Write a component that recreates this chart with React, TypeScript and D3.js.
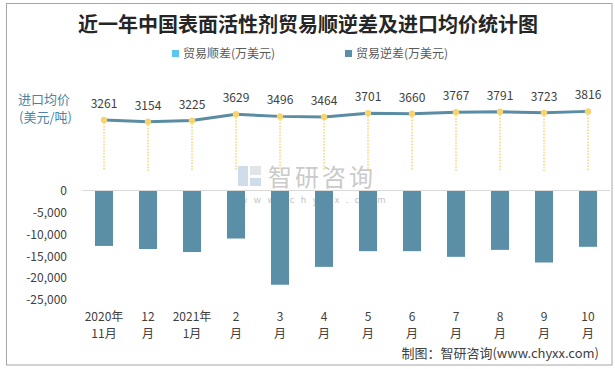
import React, { useEffect, useRef } from 'react'
import * as d3 from 'd3'

const months = ['2020-11', '2020-12', '2021-01', '2021-02', '2021-03', '2021-04', '2021-05', '2021-06', '2021-07', '2021-08', '2021-09', '2021-10']
const labelTop = ['2020年', '12', '2021年', '2', '3', '4', '5', '6', '7', '8', '9', '10']
const labelBottom = ['11月', '月', '1月', '月', '月', '月', '月', '月', '月', '月', '月', '月']
const deficit = [-12600, -13300, -14000, -10900, -21500, -17400, -13800, -13800, -15100, -13500, -16400, -12800]
const avgPrice = [3261, 3154, 3225, 3629, 3496, 3464, 3701, 3660, 3767, 3791, 3723, 3816]
const yTicks = [0, -5000, -10000, -15000, -20000, -25000]

const FONT = '"Noto Sans CJK SC", "Microsoft YaHei", sans-serif'
const BAR = '#5b8fa7'
const DOT = '#f8d470'

export default function App() {
  const ref = useRef<SVGSVGElement>(null)

  useEffect(() => {
    const svg = d3.select(ref.current)
    svg.selectAll('*').remove()

    const x = d3.scaleBand()
      .domain(months)
      .range([82, 610])
      .paddingInner(0.59)
      .paddingOuter(0.295)
    const y = d3.scaleLinear().domain([-25000, 0]).range([300, 191])
    const yLine = d3.scaleLinear().domain([0, 4000]).range([171, 108.5])
    const cx = (m: string) => (x(m) as number) + x.bandwidth() / 2

    // frame
    svg.append('rect')
      .attr('x', 6.5).attr('y', 3.5).attr('width', 605.5).attr('height', 361.5)
      .attr('fill', '#fff').attr('stroke', '#a6a6a6')

    // title
    svg.append('text')
      .attr('x', 308).attr('y', 32)
      .attr('text-anchor', 'middle')
      .style('font', `bold 20px ${FONT}`)
      .attr('fill', '#262626')
      .text('近一年中国表面活性剂贸易顺逆差及进口均价统计图')

    // legend
    const legend = [
      { name: '贸易顺差(万美元)', color: '#5bc6f0', x: 172 },
      { name: '贸易逆差(万美元)', color: BAR, x: 345 },
    ]
    const lg = svg.append('g')
    lg.selectAll('rect').data(legend).enter().append('rect')
      .attr('x', d => d.x).attr('y', 50).attr('width', 7).attr('height', 7)
      .attr('fill', d => d.color)
    lg.selectAll('text').data(legend).enter().append('text')
      .attr('x', d => d.x + 11).attr('y', 58)
      .style('font', `12px ${FONT}`)
      .attr('fill', '#595959')
      .text(d => d.name)

    // left label for the line
    svg.append('text').attr('x', 18).attr('y', 104)
      .style('font', `13px ${FONT}`).attr('fill', '#4f84a0').text('进口均价')
    svg.append('text').attr('x', 19).attr('y', 122)
      .style('font', `13px ${FONT}`).attr('fill', '#4f84a0').text('(美元/吨)')

    // watermark
    const wm = svg.append('g').attr('opacity', 0.55)
    wm.append('rect').attr('x', 238).attr('y', 166).attr('width', 10).attr('height', 20).attr('fill', '#a9c3da')
    wm.append('rect').attr('x', 250).attr('y', 166).attr('width', 11).attr('height', 9).attr('fill', '#c9cfd6')
    wm.append('rect').attr('x', 250).attr('y', 178).attr('width', 11).attr('height', 8).attr('fill', '#a9c3da')
    wm.append('text').attr('x', 268).attr('y', 186)
      .style('font', `24px ${FONT}`).attr('fill', '#a0a0a0').attr('letter-spacing', 3).text('智研咨询')
    wm.append('text').attr('x', 240).attr('y', 203)
      .style('font', `9px ${FONT}`).attr('fill', '#909090').attr('letter-spacing', 6.5).text('www.chyxx.com')

    // zero line
    svg.append('line')
      .attr('x1', 82).attr('x2', 610)
      .attr('y1', y(0) - 0.5).attr('y2', y(0) - 0.5)
      .attr('stroke', '#d9d9d9').attr('stroke-width', 1)

    // y ticks
    svg.append('g').selectAll('text').data(yTicks).enter().append('text')
      .attr('x', 67).attr('y', d => y(d)).attr('dy', '0.35em')
      .attr('text-anchor', 'end')
      .style('font', `12px ${FONT}`).attr('fill', '#404040')
      .text(d => d3.format(',')(d).replace('−', '-'))

    // bars
    svg.append('g').selectAll('rect').data(months).enter().append('rect')
      .attr('x', d => x(d) as number)
      .attr('y', y(0))
      .attr('width', x.bandwidth())
      .attr('height', (d, i) => y(deficit[i]) - y(0))
      .attr('fill', BAR)

    // drop lines
    svg.append('g').selectAll('line').data(months).enter().append('line')
      .attr('x1', d => cx(d)).attr('x2', d => cx(d))
      .attr('y1', (d, i) => yLine(avgPrice[i])).attr('y2', yLine(0))
      .attr('stroke', DOT).attr('stroke-width', 1.5).attr('stroke-dasharray', '1.5,1.5')

    // price line
    const line = d3.line<string>()
      .x(d => cx(d))
      .y((d, i) => yLine(avgPrice[i]))
    svg.append('path').datum(months)
      .attr('d', line)
      .attr('fill', 'none').attr('stroke', '#fff').attr('stroke-width', 4.5)
    svg.append('path').datum(months)
      .attr('d', line)
      .attr('fill', 'none').attr('stroke', '#5a8ca4').attr('stroke-width', 3)

    svg.append('g').selectAll('circle').data(months).enter().append('circle')
      .attr('cx', d => cx(d)).attr('cy', (d, i) => yLine(avgPrice[i]))
      .attr('r', 3.2).attr('fill', DOT)

    svg.append('g').selectAll('text').data(months).enter().append('text')
      .attr('x', d => cx(d)).attr('y', (d, i) => yLine(avgPrice[i]) - 12)
      .attr('text-anchor', 'middle')
      .style('font', `12px ${FONT}`).attr('fill', '#404040')
      .text((d, i) => avgPrice[i])

    // x labels
    const xl = svg.append('g').selectAll('g').data(months).enter().append('g')
    xl.append('text')
      .attr('x', d => cx(d)).attr('y', 321)
      .attr('text-anchor', 'middle')
      .style('font', `12px ${FONT}`).attr('fill', '#404040')
      .text((d, i) => labelTop[i])
    xl.append('text')
      .attr('x', d => cx(d)).attr('y', 338)
      .attr('text-anchor', 'middle')
      .style('font', `12px ${FONT}`).attr('fill', '#404040')
      .text((d, i) => labelBottom[i])

    // source
    svg.append('text')
      .attr('x', 599).attr('y', 358)
      .attr('text-anchor', 'end')
      .style('font', `13px ${FONT}`).attr('fill', '#404040')
      .text('制图：智研咨询(www.chyxx.com)')
  }, [])

  return (
    <div style={{ position: 'absolute', left: 0, top: 0 }}>
      <svg ref={ref} width={615} height={369} style={{ display: 'block' }} />
    </div>
  )
}
